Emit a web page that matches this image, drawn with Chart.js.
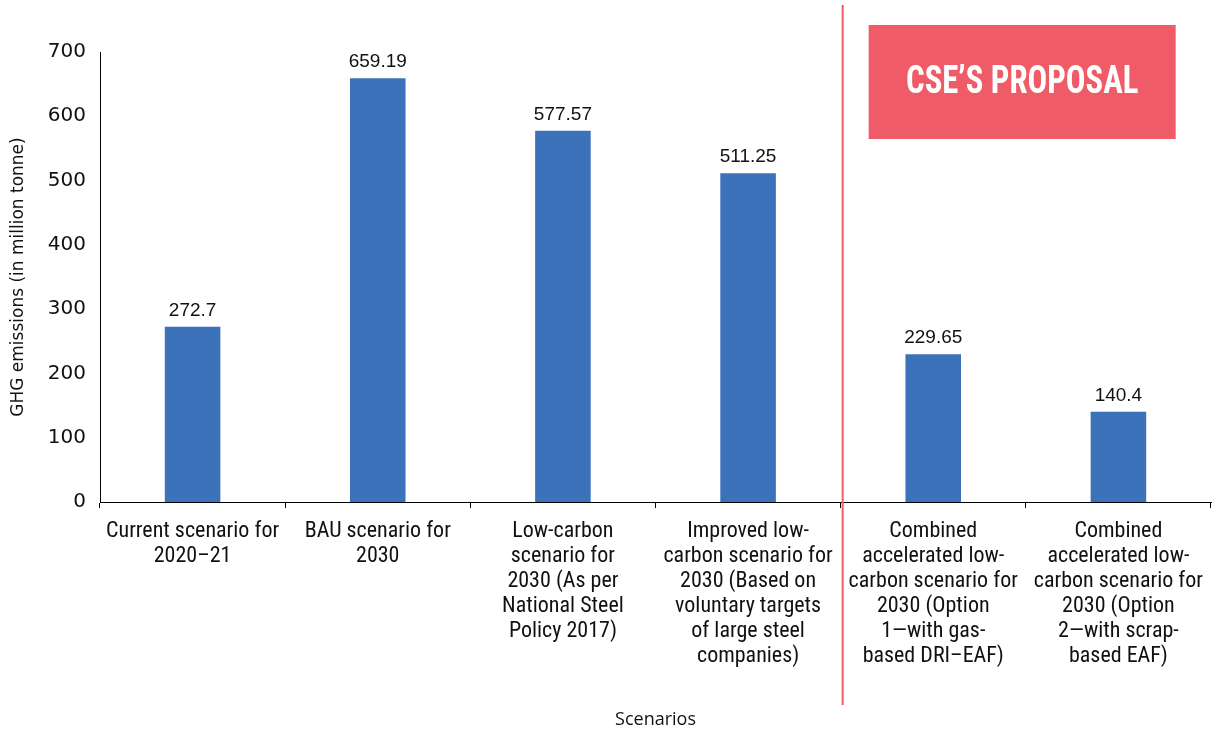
<!DOCTYPE html>
<html>
<head>
<meta charset="utf-8">
<script src="https://cdn.jsdelivr.net/npm/chart.js@4.4.1/dist/chart.umd.min.js"></script>
<style>
  html, body { margin: 0; padding: 0; background: #fff; }
  #wrap { position: relative; width: 1224px; height: 734px; }
</style>
</head>
<body>
<div id="wrap"><canvas id="chart" width="1224" height="734"></canvas></div>
<script>
  'use strict';

  var scenarioLabels = [
    ['Current scenario for', '2020\u201321'],
    ['BAU scenario for', '2030'],
    ['Low-carbon', 'scenario for', '2030 (As per', 'National Steel', 'Policy 2017)'],
    ['Improved low-', 'carbon scenario for', '2030 (Based on', 'voluntary targets', 'of large steel', 'companies)'],
    ['Combined', 'accelerated low-', 'carbon scenario for', '2030 (Option', '1\u2014with gas-', 'based DRI\u2013EAF)'],
    ['Combined', 'accelerated low-', 'carbon scenario for', '2030 (Option', '2\u2014with scrap-', 'based EAF)']
  ];
  var emissionValues = [272.7, 659.19, 577.57, 511.25, 229.65, 140.4];
  var valueLabels = ['272.7', '659.19', '577.57', '511.25', '229.65', '140.4'];
  var yTicks = [0, 100, 200, 300, 400, 500, 600, 700];

  var barColor = '#3c72ba';
  var proposalColor = '#ef5b66';
  var narrowFont = "'Liberation Sans Narrow', 'Roboto Condensed', Roboto, sans-serif";

  // value labels above each bar
  var valueLabelPlugin = {
    id: 'valueLabels',
    afterDatasetsDraw: function (chart) {
      var ctx = chart.ctx;
      var meta = chart.getDatasetMeta(0);
      ctx.save();
      ctx.fillStyle = '#111';
      ctx.font = "19px 'Liberation Sans', Arial, sans-serif";
      ctx.textAlign = 'center';
      ctx.textBaseline = 'alphabetic';
      meta.data.forEach(function (bar, i) {
        ctx.fillText(valueLabels[i], bar.x, bar.y - 11);
      });
      ctx.restore();
    }
  };

  // divider between current policy scenarios and the proposal, plus its banner
  var proposalPlugin = {
    id: 'proposal',
    afterDraw: function (chart) {
      var ctx = chart.ctx;
      var x = chart.scales.x;
      var step = x.getPixelForValue(1) - x.getPixelForValue(0);
      var divX = x.getPixelForValue(4) - step / 2 + 2;
      ctx.save();
      ctx.strokeStyle = proposalColor;
      ctx.lineWidth = 2;
      ctx.beginPath();
      ctx.moveTo(divX, 5);
      ctx.lineTo(divX, 705);
      ctx.stroke();

      var boxLeft = divX + 26;
      var boxW = 307;
      ctx.fillStyle = proposalColor;
      ctx.fillRect(boxLeft, 25, boxW, 114);

      // condensed heavy lettering
      ctx.fillStyle = '#fff';
      ctx.font = "bold 38px " + narrowFont;
      ctx.textAlign = 'center';
      ctx.textBaseline = 'middle';
      ctx.translate(boxLeft + boxW / 2, 83);
      ctx.scale(0.86, 1);
      ctx.fillText('CSE\u2019S PROPOSAL', 0, 0);
      ctx.restore();
    }
  };

  new Chart(document.getElementById('chart'), {
    type: 'bar',
    data: {
      labels: scenarioLabels,
      datasets: [{
        data: emissionValues,
        backgroundColor: barColor,
        borderWidth: 0,
        barPercentage: 0.3,
        categoryPercentage: 1
      }]
    },
    options: {
      responsive: false,
      animation: false,
      layout: { padding: { top: 52, right: 13, left: 8, bottom: 0 } },
      plugins: { legend: { display: false }, tooltip: { enabled: false } },
      scales: {
        y: {
          min: 0,
          max: 700,
          afterBuildTicks: function (axis) {
            axis.ticks = yTicks.map(function (v) { return { value: v }; });
          },
          afterFit: function (axis) { axis.width = 92; },
          border: { display: true, color: '#000', width: 1 },
          grid: { display: false, drawTicks: true, tickLength: 6, tickColor: '#000', drawOnChartArea: false },
          ticks: { color: '#111', padding: 8, font: { family: "'DejaVu Sans', sans-serif", size: 20 } },
          title: {
            display: true,
            text: 'GHG emissions (in million tonne)',
            color: '#111',
            padding: { top: 0, bottom: 2 },
            font: { family: "'DejaVu Sans', sans-serif", size: 17 }
          }
        },
        x: {
          offset: true,
          afterFit: function (axis) { axis.height = 232; },
          border: { display: true, color: '#000', width: 1 },
          grid: { display: true, offset: true, drawOnChartArea: false, tickLength: 6, tickColor: '#000' },
          ticks: {
            color: '#111',
            maxRotation: 0,
            autoSkip: false,
            padding: 11,
            font: { family: narrowFont, size: 22, lineHeight: 1.14 }
          },
          title: {
            display: true,
            text: 'Scenarios',
            color: '#111',
            padding: { top: 0, bottom: 3 },
            font: { family: "'Open Sans', sans-serif", size: 18 }
          }
        }
      }
    },
    plugins: [valueLabelPlugin, proposalPlugin]
  });
</script>
</body>
</html>
